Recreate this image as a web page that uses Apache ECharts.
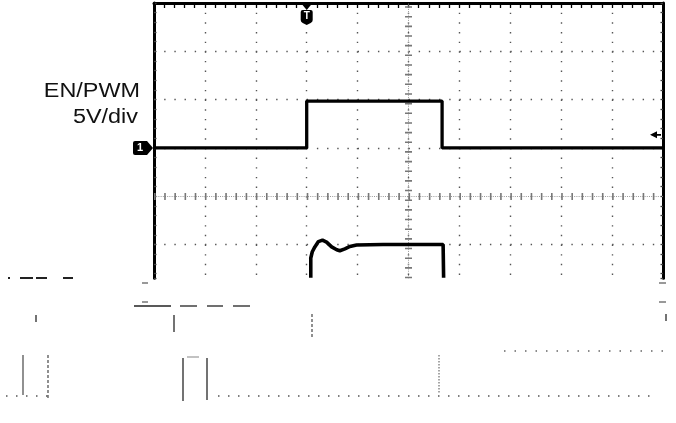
<!DOCTYPE html>
<html><head><meta charset="utf-8">
<script src="https://cdn.jsdelivr.net/npm/echarts@6/dist/echarts.min.js"></script>
<style>html,body{margin:0;padding:0;background:#fff}#c{width:676px;height:423px}</style>
</head><body><div id="c"></div>
<script>
// Time axis in divisions (0..10), amplitude in divisions (+4 = top of screen)
const ch1Time  = [0, 3.0, 3.0, 5.66, 5.66, 10];
const ch1Level = [1.0, 1.0, 1.97, 1.97, 1.0, 1.0];
const ch2Time  = [3.08, 3.08, 3.11, 3.16, 3.23, 3.31, 3.39, 3.49, 3.59, 3.65, 3.75, 3.85, 3.98, 4.5, 5.0, 5.68, 5.69];
const ch2Level = [-1.69, -1.28, -1.15, -1.05, -0.94, -0.91, -0.95, -1.05, -1.11, -1.13, -1.09, -1.04, -1.01, -1.0, -1.0, -1.0, -1.69];
const gridRows = [3, 2, 1, -1];
const centerCol = 5;
const centerRow = 0;
const ch1Ground = 1.0;
const trigTime = 3.0;
const trigLevel = 1.27;
const labelLines = ['EN/PWM', '5V/div'];

const toPairs = (xs, ys) => xs.map((x, i) => [x, ys[i]]);
const art = (x1, y1, x2, y2, w, c, dash) => ({
  type: 'line', silent: true, z: 1,
  shape: { x1, y1, x2, y2 },
  style: { stroke: c || '#333', lineWidth: w || 1, lineDash: dash || null }
});

const chart = echarts.init(document.getElementById('c'), null, { renderer: 'canvas' });
const yCommon = {
  type: 'value', min: -1.7, max: 4, splitNumber: 28,
  axisLine: { show: true, onZero: false, lineStyle: { color: '#000', width: 3 } },
  axisTick: { show: true, inside: true, length: 2.5, lineStyle: { color: '#444', width: 1.3 } },
  axisLabel: { show: false }, splitLine: { show: false }
};
const option = {
  animation: false,
  backgroundColor: '#fff',
  grid: { left: 154, right: 13, top: 3, bottom: 144.7 },
  xAxis: [
    { type: 'value', min: 0, max: 10, interval: 1, position: 'bottom',
      axisLine: { show: false, onZero: false }, axisTick: { show: false }, axisLabel: { show: false },
      splitLine: { show: true, lineStyle: { color: '#555', width: 1.4, type: [1.4, 8.26] } } },
    { type: 'value', min: 0, max: 10, interval: 1, position: 'top',
      axisLine: { show: true, onZero: false, lineStyle: { color: '#000', width: 3 } },
      axisTick: { show: true, inside: true, length: 5, lineStyle: { color: '#000', width: 1.3 } },
      minorTick: { show: true, splitNumber: 5, length: 5, lineStyle: { color: '#000', width: 1.3 } },
      axisLabel: { show: false }, splitLine: { show: false } }
  ],
  yAxis: [
    Object.assign({ position: 'left' }, yCommon),
    Object.assign({ position: 'right' }, yCommon)
  ],
  graphic: [
    { type: 'text', x: 140, y: 92, scaleX: 1.2, z: 10,
      style: { text: labelLines[0], font: '19.5px "Liberation Sans", Arial, sans-serif', fill: '#111',
        align: 'right', verticalAlign: 'middle', textAlign: 'right', textVerticalAlign: 'middle' } },
    { type: 'text', x: 138, y: 117.5, scaleX: 1.2, z: 10,
      style: { text: labelLines[1], font: '19.5px "Liberation Sans", Arial, sans-serif', fill: '#111',
        align: 'right', verticalAlign: 'middle', textAlign: 'right', textVerticalAlign: 'middle' } },
    // damaged lower part of the screen capture
    art(8, 278, 10, 278, 2, '#222'),
    art(20, 278, 33, 278, 2, '#222'), art(36, 278, 47, 278, 2, '#222'), art(63, 278, 73, 278, 2, '#222'),
    art(134, 306, 171, 306, 1.3, '#222'), art(180, 306, 197, 306, 1.3, '#222'),
    art(207, 306, 223, 306, 1.3, '#222'), art(233, 306, 250, 306, 1.3, '#222'),
    art(142, 283, 148, 283, 1.2, '#555'), art(142, 302, 148, 302, 1.2, '#555'),
    art(659, 283, 666, 283, 1.2, '#555'), art(659, 302, 666, 302, 1.2, '#555'),
    art(174, 315, 174, 332, 1.5, '#444'), art(36, 315, 36, 322, 1.5, '#444'),
    art(23, 355, 23, 395, 1.3, '#555'), art(48, 355, 48, 398, 1.3, '#555', [3, 2]),
    art(183, 358, 183, 401, 1.5, '#444'), art(207, 358, 207, 400, 1.5, '#444'),
    art(187, 357, 199, 357, 1.2, '#999'),
    art(312, 314, 312, 337, 1.3, '#555', [3, 2]), art(439, 355, 439, 394, 1.3, '#777', [1.5, 1.5]),
    art(666, 314, 666, 321, 1.5, '#444'),
    art(6, 396, 48, 396, 1.5, '#555', [1.5, 8.5]), art(218, 396, 656, 396, 1.5, '#555', [1.5, 8.5]),
    art(504, 351, 669, 351, 1.3, '#666', [1.5, 9])
  ],
  series: [
    { type: 'line', name: 'graticule', data: [], silent: true, z: 1,
      markLine: { silent: true, symbol: 'none', label: { show: false }, animation: false,
        data: gridRows.map(v => ({ yAxis: v, lineStyle: { color: '#555', width: 1.4, type: [1.4, 8.78] } })).concat([
          { xAxis: centerCol, lineStyle: { color: '#999', width: 1, type: [1, 1.2] } },
          { xAxis: centerCol, lineStyle: { color: '#777', width: 7, type: [1.6, 8.06] } },
          { yAxis: centerRow, lineStyle: { color: '#999', width: 1, type: [1, 1.2] } },
          { yAxis: centerRow, lineStyle: { color: '#777', width: 7, type: [1.6, 8.58] } }
        ]) } },
    { type: 'line', name: 'EN/PWM', data: toPairs(ch1Time, ch1Level), symbol: 'none', z: 5,
      lineStyle: { color: '#000', width: 3.3 },
      markPoint: { animation: false, data: [
        { coord: [0, ch1Ground], symbol: 'path://M2,0 L14,0 L20,7 L14,14 L2,14 Q0,14 0,12 L0,2 Q0,0 2,0 Z',
          symbolSize: [20, 14], symbolOffset: [-11, 0], itemStyle: { color: '#000' },
          label: { show: true, formatter: '1', color: '#fff', fontWeight: 'bold', fontSize: 11, offset: [-3, 0] } },
        { coord: [trigTime, 4], symbol: 'path://M0,0 L10,0 L5,7 Z', symbolSize: [10, 6], symbolOffset: [0, 4],
          itemStyle: { color: '#000' }, label: { show: false } },
        { coord: [trigTime, 4], symbol: 'path://M2,0 L10,0 Q12,0 12,2 L12,10 Q12,12 10,13 L6,15 L2,13 Q0,12 0,10 L0,2 Q0,0 2,0 Z',
          symbolSize: [12, 15], symbolOffset: [0, 14.5], itemStyle: { color: '#000' },
          label: { show: true, formatter: 'T', color: '#fff', fontWeight: 'bold', fontSize: 10, offset: [0, -1] } },
        { coord: [10, trigLevel], symbol: 'path://M0,3.5 L7,0 L7,2.7 L11,2.7 L11,4.3 L7,4.3 L7,7 Z',
          symbolSize: [11, 7], symbolOffset: [-7.5, 0], itemStyle: { color: '#000' }, label: { show: false } }
      ] } },
    { type: 'line', name: 'CH2', data: toPairs(ch2Time, ch2Level), symbol: 'none', z: 5,
      lineStyle: { color: '#000', width: 3.6 } }
  ]
};
chart.setOption(option);
</script>
</body></html>
